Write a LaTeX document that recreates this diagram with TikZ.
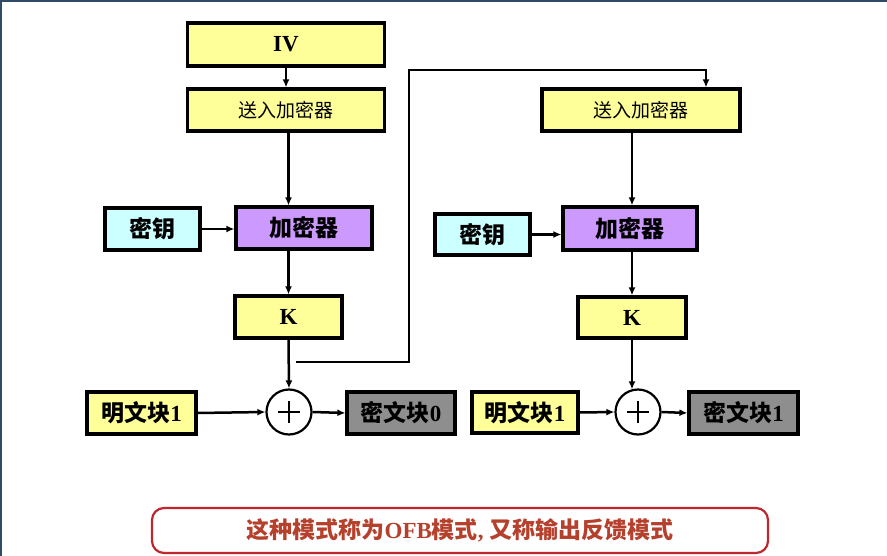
\documentclass[tikz,border=0pt]{standalone}
\usepackage{fontspec}
\setmainfont{Liberation Serif}
\newfontfamily\cjk{Noto Sans CJK SC}
\usetikzlibrary{arrows.meta}
\definecolor{boxyellow}{HTML}{FFFF99}
\definecolor{boxcyan}{HTML}{CCFFFF}
\definecolor{boxpurple}{HTML}{CC99FF}
\definecolor{boxgray}{HTML}{8E8E8E}
\definecolor{framecol}{HTML}{2F4B66}
\definecolor{redline}{HTML}{C0262D}
\definecolor{redtext}{HTML}{B5402C}
\tikzset{
  blk/.style={draw=black, line width=3.2pt, inner sep=0pt},
  ybox/.style={blk, fill=boxyellow},
  cbox/.style={blk, fill=boxcyan},
  pbox/.style={blk, fill=boxpurple},
  gbox/.style={blk, fill=boxgray},
  xorc/.style={draw=black, line width=2.2pt, circle, fill=white, minimum size=45pt, inner sep=0pt,
    path picture={\draw[line width=1.8pt] ([xshift=-11pt]path picture bounding box.center) -- ([xshift=11pt]path picture bounding box.center);
                  \draw[line width=1.8pt] ([yshift=-11pt]path picture bounding box.center) -- ([yshift=11pt]path picture bounding box.center);}},
  arr/.style={line width=2.5pt, -{Latex[length=8pt,width=7pt]}},
  big/.style={font=\fontsize{23}{26}\selectfont},
  mid/.style={font=\fontsize{19}{22}\selectfont},
}
\begin{document}
\begin{tikzpicture}[x=1pt,y=-1pt]
\useasboundingbox (0,0) rectangle (887,556);
\fill[white] (0,0) rectangle (887,556);
\draw[framecol, line width=2.5pt] (0,1) -- (887,1);
\draw[framecol, line width=2pt] (1,0) -- (1,556);

% left column
\node[ybox, minimum width=197pt, minimum height=43pt, big] (iv) at (286,44.5) {\bfseries IV};
\node[ybox, minimum width=197pt, minimum height=42pt, mid] (feed1) at (286,110) {\cjk 送入加密器};
\node[pbox, minimum width=136pt, minimum height=42pt, big] (enc1) at (304,228) {\cjk\bfseries 加密器};
\node[cbox, minimum width=95pt, minimum height=42pt, big] (key1) at (152.5,229) {\cjk\bfseries 密钥};
\node[ybox, minimum width=107pt, minimum height=42pt, big] (k1) at (288.5,317) {\bfseries K};
\node[xorc] (xor1) at (289,412) {};
\node[ybox, minimum width=109pt, minimum height=42pt, big] (p1) at (141.5,413) {{\cjk\bfseries 明文块}\bfseries 1};
\node[gbox, minimum width=108pt, minimum height=42pt, big] (c0) at (401,413) {{\cjk\bfseries 密文块}\bfseries 0};

% right column
\node[ybox, minimum width=198pt, minimum height=42pt, mid] (feed2) at (641,110) {\cjk 送入加密器};
\node[pbox, minimum width=134pt, minimum height=43pt, big] (enc2) at (630,228.5) {\cjk\bfseries 加密器};
\node[cbox, minimum width=95pt, minimum height=41pt, big] (key2) at (482.5,234.5) {\cjk\bfseries 密钥};
\node[ybox, minimum width=108pt, minimum height=41pt, big] (k2) at (632,317.5) {\bfseries K};
\node[xorc] (xor2) at (638,412) {};
\node[ybox, minimum width=106pt, minimum height=41pt, big] (p2) at (525,412.5) {{\cjk\bfseries 明文块}\bfseries 1};
\node[gbox, minimum width=109pt, minimum height=42pt, big] (c1) at (743.5,413) {{\cjk\bfseries 密文块}\bfseries 1};

% left arrows
\draw[arr] (iv.south) -- (feed1.north);
\draw[arr] (feed1.south -| k1.north) -- (enc1.north -| k1.north);
\draw[arr] (key1.east) -- (key1.east -| enc1.west);
\draw[arr] (enc1.south -| k1.north) -- (k1.north);
\draw[arr] (k1.south) -- (xor1.north);
\draw[arr] (p1.east) -- (xor1.west);
\draw[arr] (xor1.east) -- (c0.west);

% feedback
\coordinate (fb0) at (296,362);
\coordinate (fb1) at (409,362);
\coordinate (fb2) at (409,70);
\coordinate (fb3) at ([xshift=65pt]feed2.north);
\draw[arr] (fb0) -- (fb1) -- (fb2) -| (fb3);

% right arrows
\draw[arr] (feed2.south -| k2.north) -- (enc2.north -| k2.north);
\draw[arr] (key2.east) -- (key2.east -| enc2.west);
\draw[arr] (enc2.south -| k2.north) -- (k2.north);
\coordinate (x2top) at ([yshift=-1pt]xor2.north -| k2.south);
\draw[arr] (k2.south) -- (x2top);
\draw[arr] (p2.east) -- (xor2.west);
\draw[arr] (xor2.east) -- (c1.west);

% note
\node[draw=redline, line width=2.2pt, rounded corners=12pt, minimum width=616pt, minimum height=45pt,
      text=redtext, font=\fontsize{23}{26}\selectfont] (note) at (460,530.5)
  {{\cjk\bfseries 这种模式称为}\bfseries OFB{\cjk\bfseries 模式}, {\cjk\bfseries 又称输出反馈模式}};
\end{tikzpicture}
\end{document}
